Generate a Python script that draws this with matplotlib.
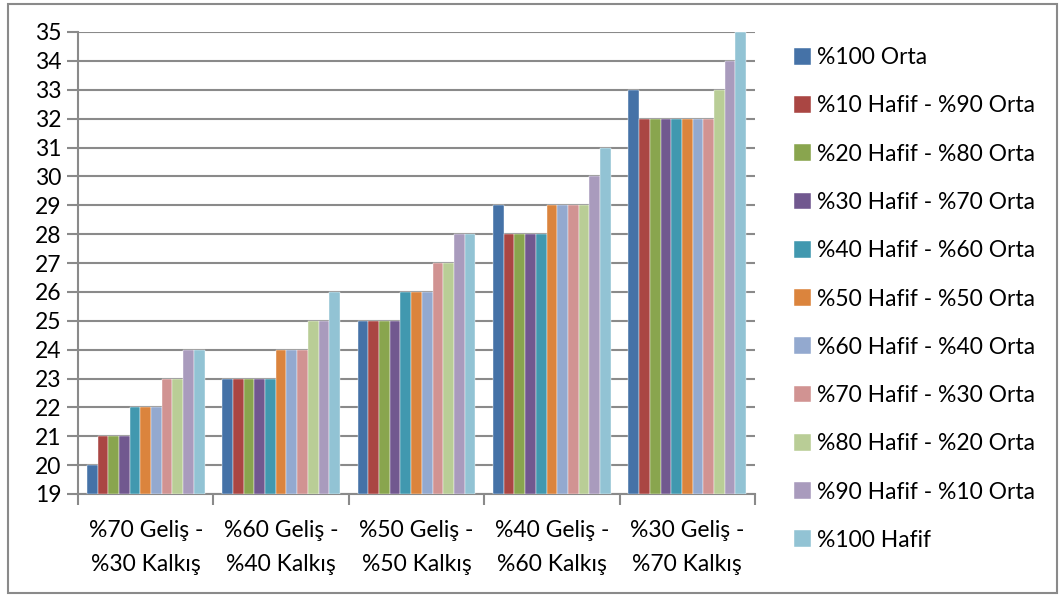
import matplotlib
matplotlib.use("Agg")
import matplotlib.pyplot as plt
import numpy as np
from matplotlib.patches import Rectangle

plt.rcParams['font.family'] = ['Lato', 'DejaVu Sans']

categories = ["%70 Geliş -\n%30 Kalkış", "%60 Geliş -\n%40 Kalkış", "%50 Geliş -\n%50 Kalkış",
              "%40 Geliş -\n%60 Kalkış", "%30 Geliş -\n%70 Kalkış"]
series_names = ["%100 Orta", "%10 Hafif - %90 Orta", "%20 Hafif - %80 Orta", "%30 Hafif - %70 Orta",
                "%40 Hafif - %60 Orta", "%50 Hafif - %50 Orta", "%60 Hafif - %40 Orta",
                "%70 Hafif - %30 Orta", "%80 Hafif - %20 Orta", "%90 Hafif - %10 Orta", "%100 Hafif"]
values = [
    [20, 23, 25, 29, 33],
    [21, 23, 25, 28, 32],
    [21, 23, 25, 28, 32],
    [21, 23, 25, 28, 32],
    [22, 23, 26, 28, 32],
    [22, 24, 26, 29, 32],
    [22, 24, 26, 29, 32],
    [23, 24, 27, 29, 32],
    [23, 25, 27, 29, 33],
    [24, 25, 28, 30, 34],
    [24, 26, 28, 31, 35],
]
colors = ["#4572A7", "#AA4643", "#89A54E", "#71588F", "#4198AF", "#DB843D",
          "#93A9CF", "#D19392", "#B9CD96", "#A99BBD", "#92C3D4"]
y_min, y_max = 19, 35

fig = plt.figure(figsize=(10.59, 5.96), dpi=100)
ax = fig.add_axes([78/1059, (596-494)/596, (755-78)/1059, (494-32)/596])

n = len(series_names)
group_w = 0.87
bw = group_w / n
x = np.arange(len(categories))
for i, (name, vals, c) in enumerate(zip(series_names, values, colors)):
    offs = -group_w/2 + bw*(i + 0.5)
    ax.bar(x + offs, np.array(vals) - y_min, bw, bottom=y_min, color=c, label=name,
           edgecolor='white', linewidth=0.3, zorder=3)

fs = 16.5
ax.set_xlim(-0.5, len(categories) - 0.5)
ax.set_ylim(y_min, y_max)
ax.set_yticks(range(y_min, y_max + 1))
ax.yaxis.grid(True, color='#8a8a8a', linewidth=1.5, zorder=0)
ax.set_axisbelow(True)
ax.set_xticks(np.arange(len(categories) + 1) - 0.5, minor=False)
ax.set_xticklabels([])
ax.set_xticks(x, minor=True)
ax.set_xticklabels(categories, minor=True, fontsize=fs, linespacing=1.75)
ax.tick_params(axis='x', which='minor', length=0, pad=19)
ax.tick_params(axis='x', which='major', length=8, color='#8a8a8a', width=1.5)
ax.tick_params(axis='y', length=8, color='#8a8a8a', width=1.5, labelsize=fs, pad=4)
for s in ['top', 'right']:
    ax.spines[s].set_visible(False)
for s in ['left', 'bottom']:
    ax.spines[s].set_color('#8a8a8a')
    ax.spines[s].set_linewidth(1.5)

leg = fig.legend(loc='upper left', bbox_to_anchor=(785/1059, 1 - 38/596), frameon=False,
                 fontsize=fs, handlelength=0.75, handleheight=0.75, handletextpad=0.25,
                 labelspacing=1.19, borderaxespad=0)

fig.patches.append(Rectangle((8/1059, 3/596), 1049/1059, 589/596, transform=fig.transFigure,
                             fill=False, edgecolor='#8a8a8a', linewidth=1.5))

fig.savefig("out.png", dpi=100)
